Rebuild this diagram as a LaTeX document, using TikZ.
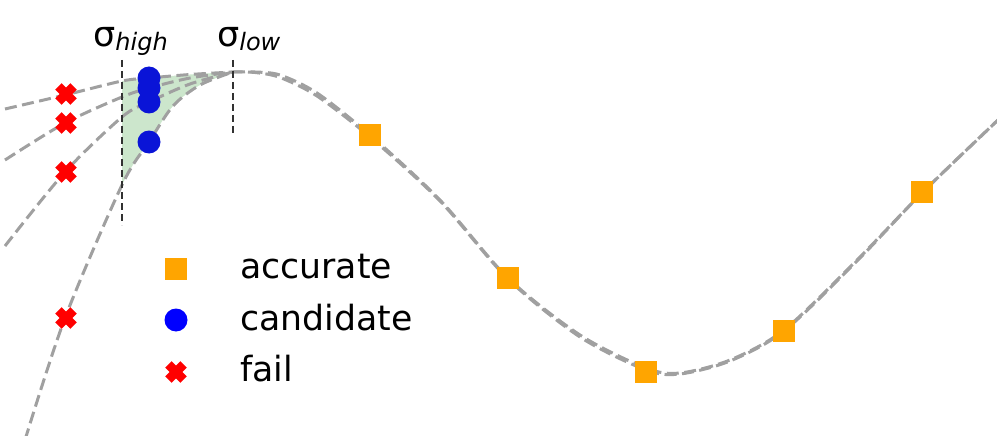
\documentclass[tikz,border=0pt]{standalone}
\usepackage{fontspec}
\setmainfont{DejaVu Sans}
\definecolor{curvegray}{RGB}{160,160,160}
\definecolor{vgray}{RGB}{50,50,50}
\definecolor{accorange}{RGB}{255,165,0}
\definecolor{candblue}{RGB}{0,0,255}
\definecolor{dotblue}{RGB}{10,20,215}
\definecolor{failred}{RGB}{255,0,0}
\definecolor{fillgreen}{RGB}{204,230,204}
\begin{document}
\begin{tikzpicture}[x=1pt,y=-1pt,
  curve/.style={draw=curvegray, line width=3pt, dash pattern=on 12pt off 5.5pt},
  vline/.style={draw=vgray, line width=2pt, dash pattern=on 7pt off 4pt},
  accmark/.style={rectangle, fill=accorange, minimum size=22.5pt, inner sep=0pt},
  candmark/.style={circle, fill=#1, minimum size=23pt, inner sep=0pt},
  candmark/.default=dotblue,
  failmark/.style={rectangle, minimum size=30pt, inner sep=0pt,
    path picture={
      \draw[failred, line width=9pt]
        ([xshift=-7.6pt,yshift=-7.6pt]path picture bounding box.center) --
        ([xshift=7.6pt,yshift=7.6pt]path picture bounding box.center);
      \draw[failred, line width=9pt]
        ([xshift=-7.6pt,yshift=7.6pt]path picture bounding box.center) --
        ([xshift=7.6pt,yshift=-7.6pt]path picture bounding box.center);
    }},
  lbl/.style={anchor=base west, inner sep=0pt, font=\fontsize{34.7}{40}\selectfont},
  sig/.style={anchor=base west, inner sep=0pt, font=\fontsize{35}{40}\selectfont}
]
\useasboundingbox (0,0) rectangle (997,436);
\clip (0,0) rectangle (997,436);

% green region between the top and the steepest curve
\begin{scope}
  \clip (122,0) rectangle (233,436);
  \fill[fillgreen]
    plot[smooth] coordinates {(5,109) (65,95) (122,81) (149,78) (190,74.5) (233,72)}
    -- plot[smooth] coordinates {(233,72) (200,85) (173,106) (149,142) (122,185) (65,318) (25,440)}
    -- cycle;
\end{scope}

% left branches
\draw[curve] plot[smooth] coordinates {(5,109) (65,95) (122,81) (149,78) (190,74.5) (233,72)};
\draw[curve] plot[smooth] coordinates {(5,160) (65,123) (122,97) (149,88) (190,78) (233,72)};
\draw[curve] plot[smooth] coordinates {(5,246) (65,172) (122,117) (149,102) (190,84) (233,72)};
\draw[curve] plot[smooth] coordinates {(25,440) (65,318) (122,185) (149,142) (173,106) (200,85) (233,72)};
% common right part (two nearly coincident curves)
\draw[curve] plot[smooth] coordinates {(233,72) (255,72) (280,75) (317,93) (370,135) (440,200) (508,278) (580,335) (646,368) (680,373) (730,360) (784,330) (857,260) (922,193) (998,120)};
\draw[curve, dash phase=2.5pt] plot[smooth] coordinates {(233,72) (255,72.5) (280,77.5) (317,96) (370,137) (440,201) (508,279) (580,337) (646,370) (680,374) (730,361) (784,331) (857,261) (922,193) (998,120)};

% sigma lines
\coordinate (hightop) at (122,60);
\coordinate (highbot) at (122,225);
\coordinate (lowtop) at (233,60);
\coordinate (lowbot) at (233,135);
\draw[vline] (hightop) -- (highbot);
\draw[vline] (lowtop) -- (lowbot);

\node[sig] (shigh) at (93,47) {σ\raisebox{-3.5pt}{\fontsize{24}{24}\selectfont\itshape high}};
\node[sig] (slow) at (217,47) {σ\raisebox{-3.5pt}{\fontsize{24}{24}\selectfont\itshape low}};

% fails
\node[failmark] (f1) at (66,94) {};
\node[failmark] (f2) at (66,123) {};
\node[failmark] (f3) at (66,172) {};
\node[failmark] (f4) at (66,318) {};

% candidates
\node[candmark] (c1) at (149,78) {};
\node[candmark] (c2) at (149,88) {};
\node[candmark] (c3) at (149,102) {};
\node[candmark] (c4) at (149,142) {};

% accurate
\node[accmark] (a1) at (370,135) {};
\node[accmark] (a2) at (508,278) {};
\node[accmark] (a3) at (646,372) {};
\node[accmark] (a4) at (784,331) {};
\node[accmark] (a5) at (922,192) {};

% legend
\node[accmark] (lacc) at (176,269) {};
\node[candmark=candblue] (lcand) at (176,320) {};
\node[failmark] (lfail) at (176,372) {};
\node[lbl] (tacc) at (240,278) {accurate};
\node[lbl] (tcand) at (240,330) {candidate};
\node[lbl] (tfail) at (240,381) {fail};
\end{tikzpicture}
\end{document}
